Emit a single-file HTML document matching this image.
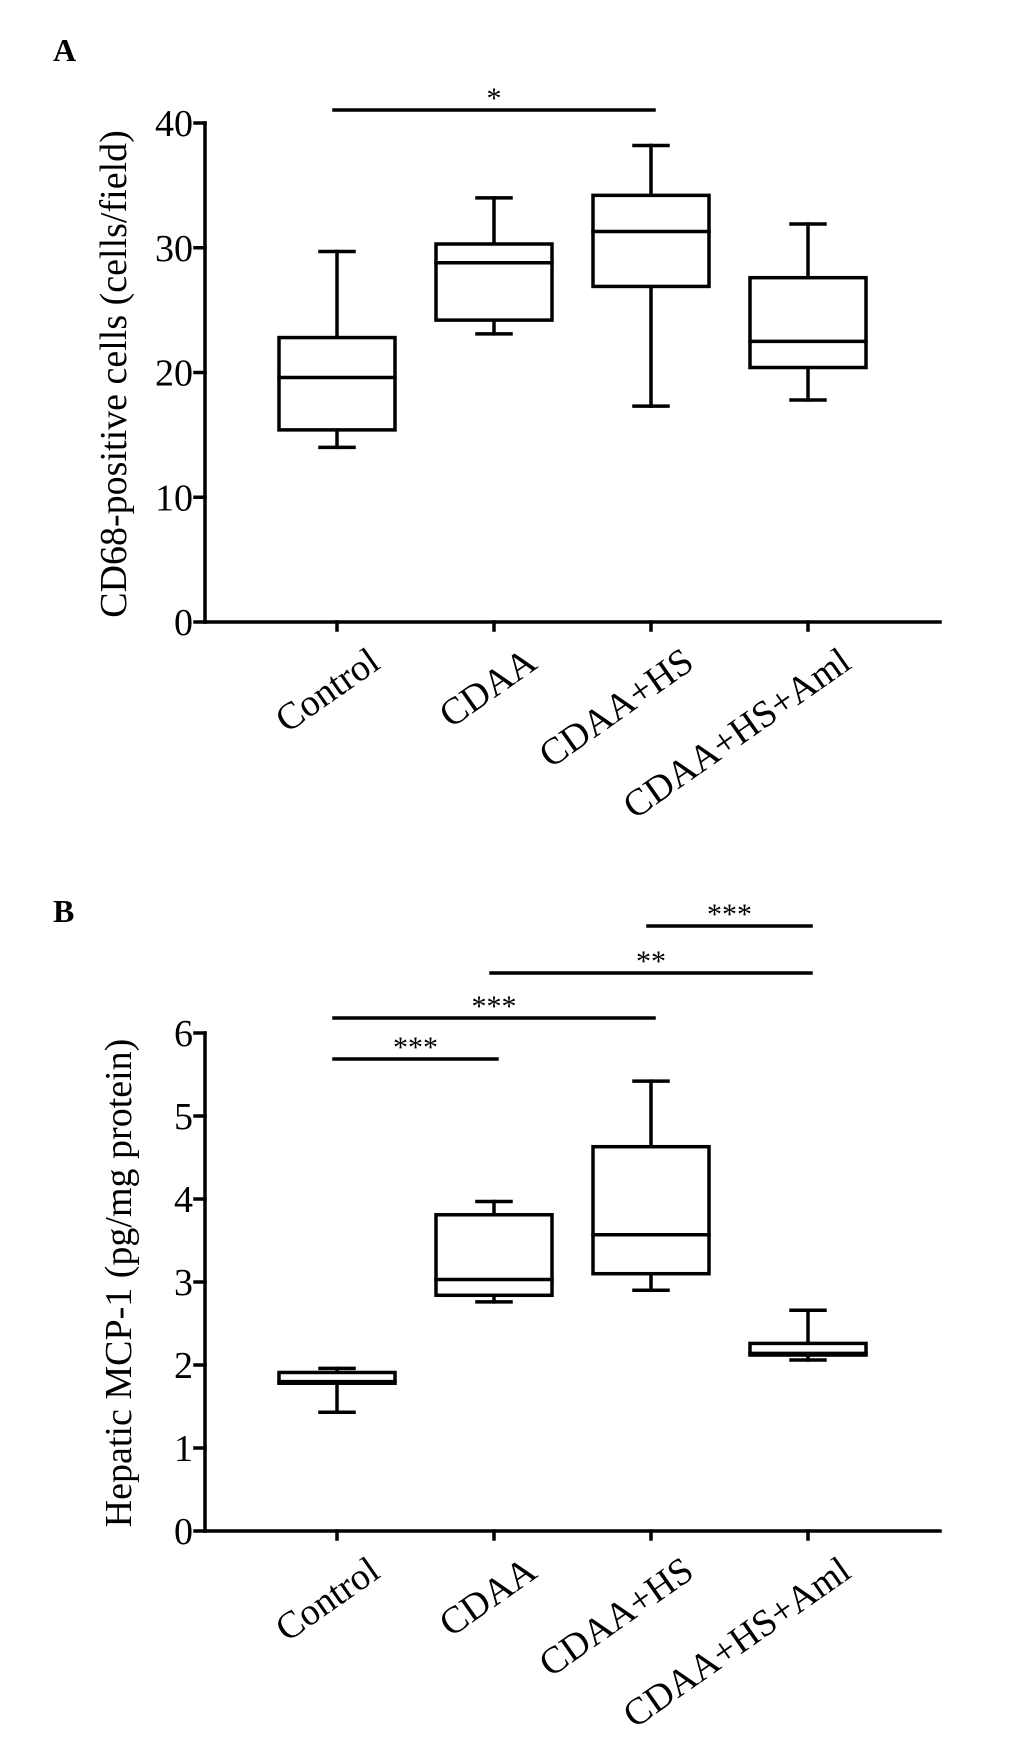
<!DOCTYPE html>
<html><head><meta charset="utf-8"><style>
html,body{margin:0;padding:0;background:#fff;}
svg{display:block;font-family:"Liberation Serif",serif;}
</style></head><body>
<svg id="fig" width="1033" height="1753" viewBox="0 0 1033 1753" xmlns="http://www.w3.org/2000/svg">
<text x="53" y="61" font-size="32" font-weight="bold">A</text>
<text x="53" y="922" font-size="32" font-weight="bold">B</text>
<text transform="translate(126,374) rotate(-90)" text-anchor="middle" font-size="38">CD68-positive cells (cells/field)</text>
<text transform="translate(131,1283) rotate(-90)" text-anchor="middle" font-size="38">Hepatic MCP-1 (pg/mg protein)</text>
</svg>
<script>
const categories = ["Control","CDAA","CDAA+HS","CDAA+HS+Aml"];
const aMin = [14, 23.1, 17.3, 17.8];
const aQ1 = [15.4, 24.2, 26.9, 20.4];
const aMed = [19.6, 28.8, 31.3, 22.5];
const aQ3 = [22.8, 30.3, 34.2, 27.6];
const aMax = [29.7, 34, 38.2, 31.9];
const aTicks = [0, 10, 20, 30, 40];
const bMin = [1.43, 2.76, 2.90, 2.06];
const bQ1 = [1.78, 2.84, 3.10, 2.12];
const bMed = [1.80, 3.03, 3.57, 2.14];
const bQ3 = [1.91, 3.81, 4.63, 2.26];
const bMax = [1.96, 3.97, 5.42, 2.66];
const bTicks = [0, 1, 2, 3, 4, 5, 6];
const aSig = [{from:0,to:2,label:"*"}];
const bSig = [{from:0,to:1,label:"***"},{from:0,to:2,label:"***"},{from:1,to:3,label:"**"},{from:2,to:3,label:"***"}];

const NS = "http://www.w3.org/2000/svg";
const svg = document.getElementById("fig");
function mk(tag, attrs){const e=document.createElementNS(NS,tag);for(const k in attrs)e.setAttribute(k,attrs[k]);svg.appendChild(e);return e;}
function line(x1,y1,x2,y2,name){const l=mk("line",{x1,y1,x2,y2,stroke:"#000","stroke-width":3.5,"stroke-linecap":"square"});


return l;}

function panel(cfg){
  const {x0,x1,yTop,yBot,vmax,ticks,mins,q1,med,q3,maxs,sig,sigY,prefix}=cfg;
  const xs = i => 337 + i*157;
  const ys = v => yBot - v/vmax*(yBot-yTop);
  line(x0,yTop,x0,yBot,prefix+"-y-axis");
  line(x0,yBot,x1,yBot,prefix+"-x-axis");
  ticks.forEach(t=>{
    line(x0-10,ys(t),x0,ys(t),prefix+"-y-tick");
    const tx=mk("text",{x:x0-12,y:ys(t)+13,"text-anchor":"end","font-size":38});
    tx.textContent=t;
    
    
  });
  categories.forEach((c,i)=>{
    const x=xs(i);
    line(x,yBot,x,yBot+8,prefix+"-x-tick");
    const tx=mk("text",{transform:`translate(${x+45},${yBot+45}) rotate(-35)`,"text-anchor":"end","font-size":38});
    tx.textContent=c;
    
    
    const hw=58, cw=17;
    line(x,ys(maxs[i]),x,ys(q3[i]),prefix+"-whisker-upper");
    line(x,ys(q1[i]),x,ys(mins[i]),prefix+"-whisker-lower");
    line(x-cw,ys(maxs[i]),x+cw,ys(maxs[i]),prefix+"-cap-upper");
    line(x-cw,ys(mins[i]),x+cw,ys(mins[i]),prefix+"-cap-lower");
    const r=mk("rect",{x:x-hw,y:ys(q3[i]),width:2*hw,height:ys(q1[i])-ys(q3[i]),fill:"#fff",stroke:"#000","stroke-width":3.5});
    
    
    line(x-hw,ys(med[i]),x+hw,ys(med[i]),prefix+"-median");
  });
  sig.forEach((s,k)=>{
    const y=sigY[k];
    line(xs(s.from)-3,y,xs(s.to)+3,y,prefix+"-significance-bar");
    const tx=mk("text",{x:(xs(s.from)+xs(s.to))/2,y:y-2,"text-anchor":"middle","font-size":30});
    tx.textContent=s.label;
    
    
  });
}
panel({x0:205,x1:940,yTop:123,yBot:622,vmax:40,ticks:aTicks,mins:aMin,q1:aQ1,med:aMed,q3:aQ3,maxs:aMax,sig:aSig,sigY:[110],prefix:"a"});
panel({x0:205,x1:940,yTop:1033,yBot:1531,vmax:6,ticks:bTicks,mins:bMin,q1:bQ1,med:bMed,q3:bQ3,maxs:bMax,sig:bSig,sigY:[1059,1018,973,926],prefix:"b"});
</script>
</body></html>
